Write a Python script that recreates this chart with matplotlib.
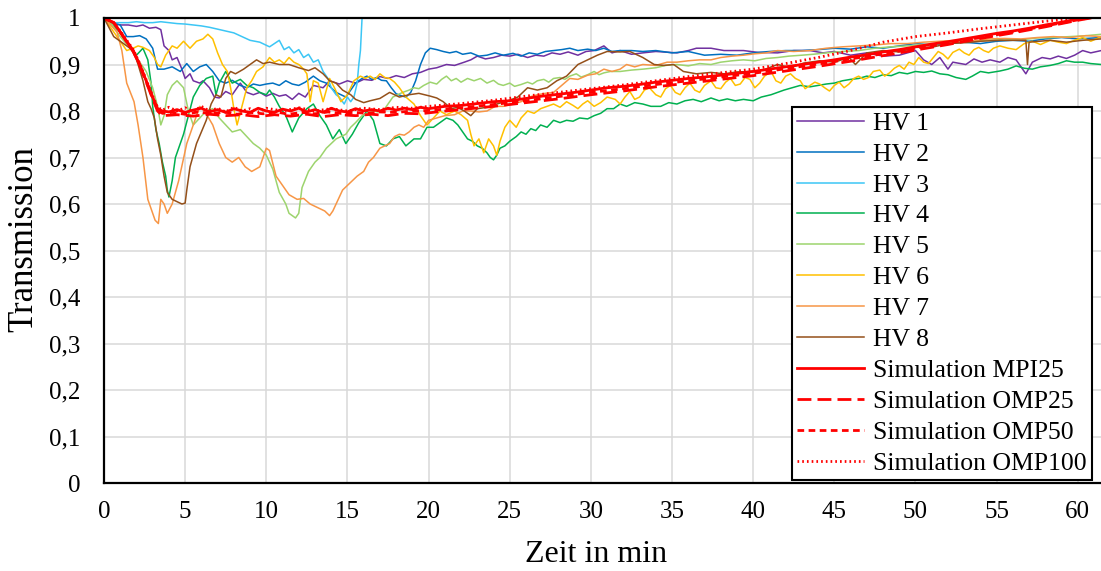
import matplotlib
matplotlib.use("Agg")
import matplotlib.pyplot as plt
from matplotlib.ticker import FuncFormatter

# =============================================================================
# data: (time in min, transmission)
# =============================================================================

hv1 = [(0, 1.0), (0.5, 0.99), (1.0, 0.985), (1.5, 0.985), (2.0, 0.982), (2.4, 0.985), (2.8, 0.978),
       (3.2, 0.98), (3.5, 0.975), (3.7, 0.94), (4.0, 0.93), (4.2, 0.91), (4.5, 0.915), (4.8, 0.89),
       (5.0, 0.87), (5.3, 0.88), (5.5, 0.865), (5.9, 0.86), (6.1, 0.865), (6.5, 0.85), (6.8, 0.83),
       (7.1, 0.828), (7.5, 0.842), (7.9, 0.835), (8.4, 0.86), (8.8, 0.84), (9.2, 0.835), (9.6, 0.84),
       (10.0, 0.832), (10.4, 0.838), (10.8, 0.832), (11.2, 0.835), (11.6, 0.825), (12.0, 0.838),
       (12.4, 0.83), (12.9, 0.855), (13.5, 0.85), (13.9, 0.865), (14.5, 0.858), (15.0, 0.865),
       (15.5, 0.86), (16.0, 0.868), (16.5, 0.866), (17.0, 0.874), (17.5, 0.87), (18.0, 0.876),
       (18.5, 0.872), (19.0, 0.88), (19.5, 0.883), (20.0, 0.89), (20.5, 0.893), (21.1, 0.9),
       (21.6, 0.898), (22.2, 0.905), (22.6, 0.91), (23.0, 0.918), (23.5, 0.912), (24.0, 0.915),
       (24.5, 0.92), (25.0, 0.918), (25.5, 0.922), (26.1, 0.915), (26.6, 0.92), (27.1, 0.918),
       (27.6, 0.925), (28.1, 0.922), (28.6, 0.927), (29.2, 0.92), (29.7, 0.928), (30.2, 0.93),
       (30.8, 0.94), (31.3, 0.925), (31.8, 0.93), (32.5, 0.922), (33.2, 0.925), (34.0, 0.928),
       (35.3, 0.925), (36.0, 0.93), (36.5, 0.935), (37.4, 0.935), (38.2, 0.93), (39.4, 0.93),
       (40.3, 0.926), (41.5, 0.925), (42.5, 0.93), (43.5, 0.93), (44.3, 0.925), (45.0, 0.928),
       (46.0, 0.92), (47.0, 0.925), (48.0, 0.918), (49.0, 0.92), (50.0, 0.93), (50.5, 0.91),
       (51.0, 0.9), (51.5, 0.915), (52.0, 0.89), (52.3, 0.905), (53.1, 0.9), (53.6, 0.912),
       (54.1, 0.905), (54.6, 0.91), (55.2, 0.905), (55.7, 0.915), (56.2, 0.91), (56.8, 0.88),
       (57.2, 0.905), (57.8, 0.915), (58.3, 0.912), (58.8, 0.918), (59.3, 0.913), (59.8, 0.92),
       (60.3, 0.93), (60.8, 0.925), (61.45, 0.93)]

hv2 = [(0, 1.0), (0.5, 0.99), (1.0, 0.985), (1.4, 0.96), (1.8, 0.96), (2.2, 0.962), (2.6, 0.955),
       (3.0, 0.935), (3.3, 0.89), (3.7, 0.89), (4.2, 0.895), (4.7, 0.885), (5.1, 0.902), (5.5, 0.885),
       (5.9, 0.895), (6.3, 0.9), (6.7, 0.885), (7.1, 0.865), (7.5, 0.86), (7.9, 0.866), (8.4, 0.855),
       (8.8, 0.85), (9.2, 0.858), (9.6, 0.855), (10.0, 0.858), (10.4, 0.86), (10.8, 0.855),
       (11.2, 0.865), (11.6, 0.858), (12.0, 0.855), (12.4, 0.862), (12.9, 0.875), (13.3, 0.865),
       (13.7, 0.86), (14.0, 0.85), (14.3, 0.84), (14.6, 0.835), (14.9, 0.83), (15.2, 0.845),
       (15.5, 0.86), (15.9, 0.87), (16.2, 0.875), (16.5, 0.868), (16.8, 0.872), (17.1, 0.866),
       (17.4, 0.865), (17.7, 0.85), (18.0, 0.837), (18.3, 0.833), (18.6, 0.83), (18.9, 0.84),
       (19.2, 0.865), (19.5, 0.9), (19.8, 0.925), (20.1, 0.935), (20.5, 0.932), (20.9, 0.928),
       (21.3, 0.925), (21.7, 0.928), (22.1, 0.922), (22.6, 0.925), (23.1, 0.918), (23.6, 0.92),
       (24.1, 0.925), (24.6, 0.92), (25.2, 0.924), (25.7, 0.918), (26.2, 0.925), (26.7, 0.922),
       (27.2, 0.928), (27.7, 0.93), (28.2, 0.932), (28.7, 0.935), (29.2, 0.93), (29.8, 0.933),
       (30.3, 0.93), (30.8, 0.935), (31.3, 0.928), (31.8, 0.93), (32.5, 0.93), (33.2, 0.928),
       (34.0, 0.93), (35.0, 0.925), (36.0, 0.928), (37.0, 0.92), (38.0, 0.922), (39.0, 0.92),
       (40.0, 0.925), (41.0, 0.928), (42.0, 0.93), (43.0, 0.93), (44.0, 0.932), (45.0, 0.935),
       (46.0, 0.933), (47.0, 0.938), (48.0, 0.935), (49.0, 0.94), (50.0, 0.945), (51.0, 0.942),
       (52.0, 0.945), (53.0, 0.948), (54.0, 0.945), (55.0, 0.95), (56.0, 0.952), (57.0, 0.95),
       (58.0, 0.955), (59.0, 0.958), (60.0, 0.955), (61.45, 0.958)]

hv3 = [(0, 0.995), (0.5, 0.99), (1.0, 0.99), (1.5, 0.99), (2.0, 0.992), (2.5, 0.99), (3.0, 0.99),
       (3.5, 0.992), (4.0, 0.99), (4.5, 0.988), (5.0, 0.987), (5.5, 0.985), (6.0, 0.983), (6.5, 0.98),
       (7.0, 0.976), (7.5, 0.972), (8.0, 0.968), (8.5, 0.96), (9.0, 0.952), (9.6, 0.948),
       (10.2, 0.938), (10.5, 0.945), (10.8, 0.952), (11.1, 0.932), (11.4, 0.938), (11.7, 0.925),
       (12.0, 0.932), (12.3, 0.915), (12.6, 0.922), (12.9, 0.905), (13.2, 0.91), (13.5, 0.885),
       (13.8, 0.87), (14.0, 0.85), (14.3, 0.835), (14.5, 0.83), (14.8, 0.815), (15.0, 0.83),
       (15.2, 0.82), (15.4, 0.83), (15.6, 0.86), (15.7, 0.9), (15.8, 0.93), (15.9, 1.0), (16.0, 1.05)]

hv4 = [(0, 1.0), (0.5, 0.985), (1.0, 0.97), (1.3, 0.955), (1.6, 0.94), (2.0, 0.92), (2.4, 0.935),
       (2.7, 0.91), (2.9, 0.86), (3.0, 0.81), (3.2, 0.76), (3.4, 0.73), (3.6, 0.69), (3.8, 0.66),
       (3.9, 0.63), (4.0, 0.615), (4.2, 0.65), (4.4, 0.70), (4.6, 0.72), (4.9, 0.75), (5.2, 0.79),
       (5.5, 0.83), (5.9, 0.855), (6.3, 0.87), (6.7, 0.875), (6.9, 0.835), (7.1, 0.86), (7.5, 0.885),
       (7.9, 0.86), (8.4, 0.868), (8.8, 0.855), (9.2, 0.85), (9.6, 0.84), (10.0, 0.835),
       (10.2, 0.845), (10.5, 0.83), (10.8, 0.81), (11.2, 0.79), (11.6, 0.755), (12.0, 0.785),
       (12.5, 0.805), (12.9, 0.815), (13.3, 0.79), (13.7, 0.77), (14.1, 0.74), (14.5, 0.76),
       (14.9, 0.73), (15.3, 0.75), (15.7, 0.775), (16.2, 0.80), (16.6, 0.78), (17.0, 0.73),
       (17.4, 0.725), (17.8, 0.74), (18.2, 0.745), (18.6, 0.725), (19.1, 0.74), (19.5, 0.74),
       (19.9, 0.765), (20.3, 0.765), (20.7, 0.775), (21.1, 0.785), (21.5, 0.78), (21.8, 0.77),
       (22.1, 0.755), (22.4, 0.74), (22.7, 0.735), (23.0, 0.725), (23.3, 0.72), (23.6, 0.71),
       (23.8, 0.70), (24.0, 0.695), (24.2, 0.705), (24.4, 0.72), (24.7, 0.725), (25.0, 0.735),
       (25.4, 0.745), (25.7, 0.755), (26.0, 0.75), (26.3, 0.762), (26.6, 0.758), (26.9, 0.77),
       (27.3, 0.765), (27.7, 0.78), (28.1, 0.775), (28.5, 0.78), (28.9, 0.778), (29.3, 0.785),
       (29.8, 0.783), (30.2, 0.79), (30.6, 0.795), (31.0, 0.805), (31.4, 0.805), (31.8, 0.815),
       (32.2, 0.81), (32.7, 0.818), (33.2, 0.815), (33.7, 0.81), (34.3, 0.81), (34.8, 0.818),
       (35.3, 0.815), (35.8, 0.822), (36.3, 0.825), (36.8, 0.82), (37.4, 0.828), (37.9, 0.822),
       (38.4, 0.826), (38.9, 0.822), (39.4, 0.825), (40.0, 0.822), (40.5, 0.83), (41.1, 0.835),
       (41.5, 0.84), (41.9, 0.845), (42.4, 0.85), (42.9, 0.855), (43.5, 0.852), (44.0, 0.855),
       (44.5, 0.858), (45.0, 0.86), (45.5, 0.865), (46.0, 0.868), (46.5, 0.87), (47.0, 0.875),
       (47.5, 0.872), (48.0, 0.878), (48.5, 0.876), (49.0, 0.883), (49.5, 0.88), (50.0, 0.885),
       (50.5, 0.883), (51.0, 0.886), (51.5, 0.88), (52.0, 0.878), (52.5, 0.872), (53.1, 0.868),
       (53.5, 0.875), (54.0, 0.885), (54.5, 0.882), (55.2, 0.886), (55.7, 0.89), (56.2, 0.897),
       (56.7, 0.892), (57.2, 0.89), (57.7, 0.895), (58.3, 0.898), (58.8, 0.902), (59.3, 0.908),
       (59.8, 0.905), (60.3, 0.905), (60.8, 0.902), (61.45, 0.90)]

hv5 = [(0, 1.0), (0.5, 0.985), (1.0, 0.96), (1.6, 0.935), (2.2, 0.905), (2.6, 0.885), (3.0, 0.85),
       (3.3, 0.81), (3.5, 0.77), (3.7, 0.79), (3.9, 0.835), (4.2, 0.855), (4.5, 0.865), (4.9, 0.85),
       (5.2, 0.80), (5.5, 0.77), (5.9, 0.785), (6.3, 0.80), (6.7, 0.805), (7.1, 0.785), (7.5, 0.77),
       (7.9, 0.755), (8.4, 0.76), (8.8, 0.745), (9.2, 0.73), (9.6, 0.72), (10.0, 0.705),
       (10.4, 0.675), (10.8, 0.625), (11.2, 0.60), (11.4, 0.58), (11.6, 0.575), (11.8, 0.57),
       (12.0, 0.58), (12.2, 0.635), (12.6, 0.67), (13.0, 0.69), (13.3, 0.70), (13.7, 0.72),
       (14.0, 0.73), (14.3, 0.74), (14.6, 0.745), (14.9, 0.75), (15.2, 0.765), (15.5, 0.775),
       (15.9, 0.79), (16.2, 0.795), (16.6, 0.80), (16.9, 0.798), (17.2, 0.80), (17.5, 0.815),
       (17.8, 0.83), (18.1, 0.835), (18.4, 0.84), (18.8, 0.845), (19.1, 0.85), (19.4, 0.848),
       (19.7, 0.855), (20.1, 0.862), (20.5, 0.858), (20.8, 0.868), (21.1, 0.875), (21.4, 0.865),
       (21.7, 0.87), (22.0, 0.862), (22.4, 0.87), (22.8, 0.865), (23.2, 0.87), (23.6, 0.86),
       (24.0, 0.866), (24.3, 0.858), (24.6, 0.855), (25.0, 0.86), (25.3, 0.853), (25.7, 0.857),
       (26.1, 0.862), (26.4, 0.858), (26.7, 0.865), (27.1, 0.868), (27.4, 0.862), (27.7, 0.87),
       (28.1, 0.872), (28.4, 0.868), (28.7, 0.875), (29.1, 0.88), (29.4, 0.873), (29.8, 0.878),
       (30.2, 0.885), (30.5, 0.878), (30.8, 0.882), (31.2, 0.885), (31.8, 0.885), (32.5, 0.888),
       (33.2, 0.89), (34.0, 0.893), (34.6, 0.898), (35.3, 0.9), (36.0, 0.897), (36.7, 0.902),
       (37.4, 0.9), (38.0, 0.905), (38.7, 0.908), (39.4, 0.91), (40.1, 0.908), (40.8, 0.913),
       (41.5, 0.915), (42.2, 0.918), (43.0, 0.92), (43.7, 0.922), (44.5, 0.925), (45.5, 0.928),
       (46.5, 0.93), (47.5, 0.935), (48.5, 0.938), (49.5, 0.94), (50.5, 0.943), (51.5, 0.945),
       (52.5, 0.948), (53.5, 0.95), (54.5, 0.952), (55.5, 0.955), (56.5, 0.953), (57.5, 0.957),
       (58.5, 0.958), (59.5, 0.96), (60.5, 0.962), (61.45, 0.965)]

hv6 = [(0, 1.0), (0.5, 0.975), (1.0, 0.95), (1.4, 0.93), (1.8, 0.935), (2.1, 0.94), (2.4, 0.937),
       (2.8, 0.93), (3.1, 0.915), (3.3, 0.9), (3.5, 0.895), (3.8, 0.92), (4.2, 0.94), (4.5, 0.935),
       (4.9, 0.95), (5.3, 0.935), (5.7, 0.95), (6.1, 0.955), (6.4, 0.965), (6.7, 0.955),
       (7.0, 0.925), (7.3, 0.9), (7.6, 0.885), (7.8, 0.85), (8.0, 0.805), (8.2, 0.77), (8.5, 0.81),
       (8.8, 0.85), (9.1, 0.865), (9.4, 0.885), (9.8, 0.895), (10.2, 0.915), (10.5, 0.905),
       (10.8, 0.91), (11.1, 0.902), (11.4, 0.915), (11.7, 0.905), (12.0, 0.9), (12.3, 0.89),
       (12.5, 0.88), (12.7, 0.82), (12.9, 0.865), (13.2, 0.86), (13.5, 0.82), (13.9, 0.87),
       (14.2, 0.85), (14.6, 0.82), (15.0, 0.835), (15.4, 0.865), (15.8, 0.875), (16.1, 0.87),
       (16.4, 0.875), (16.7, 0.868), (17.0, 0.88), (17.3, 0.872), (17.6, 0.87), (17.9, 0.862),
       (18.2, 0.85), (18.6, 0.83), (19.1, 0.815), (19.5, 0.79), (19.9, 0.77), (20.3, 0.785),
       (20.7, 0.80), (21.1, 0.792), (21.6, 0.8), (22.0, 0.792), (22.4, 0.78), (22.6, 0.75),
       (22.8, 0.725), (23.1, 0.74), (23.4, 0.71), (23.7, 0.74), (24.0, 0.725), (24.2, 0.705),
       (24.4, 0.735), (24.7, 0.765), (25.0, 0.78), (25.4, 0.765), (25.7, 0.785), (26.1, 0.80),
       (26.5, 0.795), (26.9, 0.805), (27.3, 0.81), (27.7, 0.815), (28.1, 0.808), (28.5, 0.82),
       (28.9, 0.812), (29.2, 0.805), (29.5, 0.815), (29.8, 0.822), (30.2, 0.81), (30.6, 0.818),
       (31.0, 0.83), (31.5, 0.825), (31.8, 0.815), (32.1, 0.83), (32.4, 0.842), (32.7, 0.825),
       (33.0, 0.83), (33.3, 0.845), (33.6, 0.85), (34.0, 0.835), (34.3, 0.83), (34.6, 0.848),
       (34.9, 0.855), (35.2, 0.84), (35.5, 0.835), (35.8, 0.85), (36.1, 0.86), (36.4, 0.845),
       (36.7, 0.84), (37.0, 0.855), (37.4, 0.865), (37.7, 0.85), (38.0, 0.848), (38.3, 0.862),
       (38.6, 0.87), (38.9, 0.855), (39.2, 0.858), (39.5, 0.872), (39.8, 0.868), (40.1, 0.85),
       (40.4, 0.86), (40.7, 0.875), (41.1, 0.885), (41.4, 0.865), (41.7, 0.86), (42.0, 0.875),
       (42.3, 0.88), (42.6, 0.87), (42.9, 0.865), (43.2, 0.848), (43.5, 0.855), (43.8, 0.862),
       (44.1, 0.858), (44.4, 0.85), (44.7, 0.843), (45.0, 0.855), (45.3, 0.862), (45.6, 0.85),
       (45.9, 0.858), (46.2, 0.87), (46.5, 0.875), (46.8, 0.868), (47.1, 0.872), (47.4, 0.885),
       (47.8, 0.888), (48.1, 0.875), (48.4, 0.882), (48.7, 0.892), (49.0, 0.898), (49.3, 0.89),
       (49.6, 0.905), (49.9, 0.9), (50.2, 0.915), (50.5, 0.905), (50.8, 0.902), (51.1, 0.915),
       (51.4, 0.928), (51.7, 0.922), (52.0, 0.912), (52.3, 0.926), (52.7, 0.933), (53.0, 0.925),
       (53.3, 0.92), (53.6, 0.932), (53.9, 0.937), (54.2, 0.93), (54.5, 0.926), (54.8, 0.935),
       (55.2, 0.94), (55.7, 0.935), (56.2, 0.932), (56.7, 0.945), (57.2, 0.95), (57.7, 0.943),
       (58.3, 0.952), (58.8, 0.948), (59.3, 0.945), (59.8, 0.952), (60.3, 0.958), (60.8, 0.95),
       (61.45, 0.96)]

hv7 = [(0, 1.0), (0.4, 0.985), (0.8, 0.97), (1.1, 0.93), (1.4, 0.86), (1.85, 0.82), (2.1, 0.77),
       (2.4, 0.70), (2.7, 0.61), (2.9, 0.59), (3.15, 0.565), (3.35, 0.558), (3.5, 0.61), (3.7, 0.6),
       (3.9, 0.58), (4.2, 0.60), (4.6, 0.65), (5.1, 0.73), (5.5, 0.77), (5.9, 0.81), (6.2, 0.80),
       (6.7, 0.77), (7.1, 0.73), (7.5, 0.70), (7.9, 0.69), (8.3, 0.70), (8.7, 0.68), (9.1, 0.67),
       (9.6, 0.68), (10.0, 0.72), (10.2, 0.715), (10.6, 0.66), (11.0, 0.64), (11.4, 0.62),
       (11.9, 0.61), (12.3, 0.612), (12.7, 0.60), (13.0, 0.595), (13.3, 0.59), (13.6, 0.585),
       (13.9, 0.575), (14.1, 0.585), (14.3, 0.60), (14.7, 0.63), (15.0, 0.64), (15.3, 0.65),
       (15.6, 0.66), (16.0, 0.67), (16.3, 0.69), (16.6, 0.70), (17.0, 0.72), (17.3, 0.725),
       (17.6, 0.73), (17.9, 0.745), (18.2, 0.75), (18.5, 0.748), (18.8, 0.755), (19.1, 0.765),
       (19.4, 0.77), (19.7, 0.765), (20.0, 0.78), (20.5, 0.785), (21.0, 0.79), (21.6, 0.792),
       (22.1, 0.8), (22.6, 0.80), (23.1, 0.798), (23.6, 0.80), (24.1, 0.81), (24.6, 0.81),
       (25.2, 0.815), (25.7, 0.82), (26.2, 0.83), (26.7, 0.835), (27.2, 0.838), (27.7, 0.84),
       (28.2, 0.855), (28.7, 0.87), (29.2, 0.868), (29.8, 0.877), (30.3, 0.88), (30.8, 0.89),
       (31.3, 0.885), (31.8, 0.89), (32.2, 0.9), (32.7, 0.895), (33.2, 0.9), (34.0, 0.898),
       (34.7, 0.905), (35.3, 0.905), (36.0, 0.908), (36.7, 0.91), (37.4, 0.91), (38.0, 0.915),
       (38.7, 0.918), (39.4, 0.92), (40.1, 0.923), (40.8, 0.925), (41.5, 0.93), (42.5, 0.928),
       (43.5, 0.93), (44.5, 0.935), (45.5, 0.938), (46.5, 0.94), (47.5, 0.942), (48.5, 0.945),
       (49.5, 0.945), (50.5, 0.948), (51.5, 0.95), (52.5, 0.952), (53.5, 0.95), (54.5, 0.955),
       (55.5, 0.956), (56.5, 0.955), (57.5, 0.958), (58.5, 0.96), (59.5, 0.958), (60.5, 0.962),
       (61.45, 0.96)]

hv8 = [(0, 1.0), (0.3, 0.98), (0.6, 0.96), (1.0, 0.95), (1.4, 0.94), (1.8, 0.93), (2.1, 0.9),
       (2.4, 0.865), (2.7, 0.82), (2.9, 0.805), (3.1, 0.785), (3.3, 0.74), (3.5, 0.705),
       (3.7, 0.66), (3.9, 0.625), (4.2, 0.61), (4.5, 0.605), (4.8, 0.60), (5.0, 0.602),
       (5.1, 0.63), (5.3, 0.68), (5.5, 0.705), (5.7, 0.73), (6.0, 0.755), (6.3, 0.78),
       (6.6, 0.815), (6.9, 0.835), (7.2, 0.83), (7.5, 0.87), (7.8, 0.885), (8.1, 0.88),
       (8.6, 0.89), (9.0, 0.9), (9.4, 0.91), (9.8, 0.902), (10.2, 0.905), (10.8, 0.9),
       (11.4, 0.9), (12.0, 0.893), (12.6, 0.887), (13.0, 0.893), (13.5, 0.88), (13.9, 0.865),
       (14.3, 0.86), (14.7, 0.845), (15.2, 0.835), (15.5, 0.825), (16.0, 0.818), (16.4, 0.822),
       (17.0, 0.827), (17.6, 0.84), (18.2, 0.83), (18.8, 0.835), (19.4, 0.838), (20.1, 0.832),
       (20.5, 0.828), (20.9, 0.82), (21.4, 0.805), (21.8, 0.808), (22.2, 0.80), (22.6, 0.79),
       (23.0, 0.805), (23.6, 0.808), (24.2, 0.815), (24.9, 0.822), (25.5, 0.83), (26.1, 0.85),
       (26.7, 0.845), (27.3, 0.85), (27.9, 0.865), (28.5, 0.875), (29.2, 0.9), (29.8, 0.91),
       (30.4, 0.92), (31.0, 0.928), (31.8, 0.927), (32.4, 0.928), (33.2, 0.915), (33.9, 0.9),
       (34.5, 0.898), (35.1, 0.9), (35.7, 0.885), (36.5, 0.88), (37.4, 0.883), (38.2, 0.88),
       (39.0, 0.884), (39.8, 0.885), (40.6, 0.888), (41.5, 0.9), (42.3, 0.893), (43.1, 0.903),
       (43.5, 0.905), (44.1, 0.908), (45.0, 0.905), (45.9, 0.915), (46.3, 0.9), (47.0, 0.925),
       (48.0, 0.93), (49.0, 0.927), (50.0, 0.937), (51.0, 0.937), (52.0, 0.945), (53.1, 0.947),
       (54.0, 0.95), (55.2, 0.952), (56.2, 0.952), (56.8, 0.952), (56.9, 0.9), (57.0, 0.948),
       (58.3, 0.952), (59.3, 0.948), (60.3, 0.952), (61.45, 0.955)]

sim_mpi25 = [(0, 1.0), (0.6, 0.99), (1.0, 0.97), (1.4, 0.95), (1.8, 0.93), (2.2, 0.90), (2.6, 0.865),
             (3.0, 0.83), (3.3, 0.805), (3.6, 0.80), (4.0, 0.798), (4.5, 0.803), (5.0, 0.797),
             (5.5, 0.802), (6.0, 0.806), (6.5, 0.798), (7.0, 0.803), (7.5, 0.797), (8.0, 0.805),
             (8.5, 0.8), (9.0, 0.797), (9.5, 0.806), (10.0, 0.8), (10.5, 0.797), (11.0, 0.804),
             (11.5, 0.8), (12.0, 0.806), (12.5, 0.798), (13.0, 0.803), (13.5, 0.797), (14.0, 0.806),
             (14.5, 0.8), (15.0, 0.798), (15.5, 0.805), (16.0, 0.8), (16.5, 0.803), (17.0, 0.8),
             (17.5, 0.806), (18.0, 0.802), (18.5, 0.806), (19.0, 0.803), (19.5, 0.808), (20.0, 0.805),
             (21.0, 0.81), (22.0, 0.812), (23.0, 0.816), (24.0, 0.82), (25.0, 0.822), (26.0, 0.827),
             (27.0, 0.832), (28.0, 0.836), (29.0, 0.84), (30.0, 0.845), (31.0, 0.85), (32.0, 0.853),
             (33.0, 0.857), (34.0, 0.862), (35.0, 0.866), (36.0, 0.87), (37.0, 0.873), (38.0, 0.877),
             (39.0, 0.881), (40.0, 0.885), (41.0, 0.89), (42.0, 0.895), (43.0, 0.9), (44.0, 0.905),
             (45.0, 0.91), (46.0, 0.916), (47.0, 0.921), (48.0, 0.927), (49.0, 0.932), (50.0, 0.938),
             (51.0, 0.944), (52.0, 0.949), (53.0, 0.955), (54.0, 0.961), (55.0, 0.967), (56.0, 0.972),
             (57.0, 0.978), (58.0, 0.985), (59.0, 0.991), (60.0, 0.998), (61.45, 1.007)]

sim_omp25 = [(0, 1.0), (0.6, 0.99), (1.0, 0.97), (1.4, 0.948), (1.8, 0.928), (2.2, 0.898), (2.6, 0.862),
             (3.0, 0.826), (3.3, 0.8), (3.6, 0.79), (4.5, 0.792), (5.5, 0.789), (6.5, 0.793),
             (7.5, 0.79), (8.5, 0.792), (9.5, 0.788), (10.5, 0.792), (11.5, 0.789), (12.5, 0.793),
             (13.5, 0.788), (14.5, 0.792), (15.5, 0.79), (16.5, 0.793), (17.5, 0.79), (18.5, 0.795),
             (19.5, 0.794), (20.5, 0.798), (22.0, 0.803), (24.0, 0.81), (26.0, 0.818), (28.0, 0.826),
             (30.0, 0.835), (32.0, 0.843), (34.0, 0.852), (36.0, 0.86), (38.0, 0.868), (40.0, 0.876),
             (42.0, 0.886), (44.0, 0.896), (46.0, 0.907), (48.0, 0.919), (50.0, 0.931), (52.0, 0.943),
             (54.0, 0.956), (56.0, 0.968), (58.0, 0.981), (60.0, 0.995), (61.45, 1.004)]

sim_omp50 = [(0, 1.0), (0.6, 0.99), (1.0, 0.97), (1.4, 0.949), (1.8, 0.929), (2.2, 0.899), (2.6, 0.864),
             (3.0, 0.828), (3.3, 0.803), (3.6, 0.795), (4.2, 0.797), (5.0, 0.793), (5.8, 0.798),
             (6.6, 0.794), (7.4, 0.798), (8.2, 0.793), (9.0, 0.797), (9.8, 0.794), (10.6, 0.798),
             (11.4, 0.793), (12.2, 0.797), (13.0, 0.794), (13.8, 0.798), (14.6, 0.795), (15.4, 0.797),
             (16.2, 0.795), (17.0, 0.798), (18.0, 0.797), (19.0, 0.8), (20.0, 0.801), (22.0, 0.807),
             (24.0, 0.814), (26.0, 0.822), (28.0, 0.831), (30.0, 0.84), (32.0, 0.848), (34.0, 0.857),
             (36.0, 0.865), (38.0, 0.873), (40.0, 0.881), (42.0, 0.891), (44.0, 0.901), (46.0, 0.912),
             (48.0, 0.923), (50.0, 0.935), (52.0, 0.946), (54.0, 0.958), (56.0, 0.97), (58.0, 0.983),
             (60.0, 0.996), (61.45, 1.005)]

sim_omp100 = [(0, 1.0), (0.6, 0.99), (1.0, 0.972), (1.4, 0.952), (1.8, 0.932), (2.2, 0.902),
              (2.6, 0.867), (3.0, 0.832), (3.3, 0.808), (3.6, 0.802), (4.0, 0.808), (4.5, 0.8),
              (5.0, 0.807), (5.5, 0.799), (6.0, 0.81), (6.5, 0.8), (7.0, 0.806), (7.5, 0.798),
              (8.0, 0.808), (8.5, 0.8), (9.0, 0.805), (9.5, 0.798), (10.0, 0.806), (11.0, 0.8),
              (12.0, 0.807), (13.0, 0.8), (14.0, 0.805), (15.0, 0.8), (16.0, 0.806), (17.0, 0.803),
              (18.0, 0.808), (19.0, 0.806), (20.0, 0.81), (22.0, 0.816), (24.0, 0.823), (26.0, 0.832),
              (28.0, 0.84), (30.0, 0.848), (32.0, 0.856), (34.0, 0.865), (36.0, 0.874), (38.0, 0.882),
              (40.0, 0.89), (42.0, 0.902), (44.0, 0.915), (46.0, 0.93), (48.0, 0.948), (50.0, 0.96),
              (52.0, 0.968), (54.0, 0.977), (56.0, 0.985), (58.0, 0.993), (60.0, 1.0), (61.45, 1.008)]

labels = ["HV 1", "HV 2", "HV 3", "HV 4", "HV 5", "HV 6", "HV 7", "HV 8",
          "Simulation MPI25", "Simulation OMP25", "Simulation OMP50", "Simulation OMP100"]
x_ticks = list(range(0, 61, 5))
y_ticks = [0, 0.1, 0.2, 0.3, 0.4, 0.5, 0.6, 0.7, 0.8, 0.9, 1.0]

# =============================================================================
# plot
# =============================================================================

plt.rcParams["font.family"] = ["Liberation Serif", "DejaVu Serif"]

measured = [hv1, hv2, hv3, hv4, hv5, hv6, hv7, hv8]
colors = ["#7030A0", "#0070C0", "#3CC6F5", "#00B050", "#9DD46E", "#FFC000", "#F79646", "#94501A"]
simulated = [sim_mpi25, sim_omp25, sim_omp50, sim_omp100]
dash_styles = [None, (5, 2.2), (2.4, 1.6), (0.6, 1.1)]

fig = plt.figure(figsize=(11.01, 5.71), dpi=100)
ax = fig.add_axes([104 / 1101, 88 / 571, 997 / 1101, 465 / 571])

for series, col, lab in zip(measured, colors, labels[:8]):
    t = [p[0] for p in series]
    v = [p[1] for p in series]
    ax.plot(t, v, color=col, lw=1.1, label=lab)

for series, dash, lab in zip(simulated, dash_styles, labels[8:]):
    t = [p[0] for p in series]
    v = [p[1] for p in series]
    line, = ax.plot(t, v, color="#FF0000", lw=2.0, label=lab)
    if dash is not None:
        line.set_dashes(dash)

ax.set_xlim(0, 61.43)
ax.set_ylim(0, 1)
ax.set_xticks(x_ticks)
ax.set_yticks(y_ticks)
ax.yaxis.set_major_formatter(FuncFormatter(lambda v, p: f"{round(v, 1):g}".replace(".", ",")))
ax.tick_params(axis="both", length=0, labelsize=18, colors="black")
ax.tick_params(axis="x", pad=13)
ax.tick_params(axis="y", pad=17)

ax.grid(True, color="#D9D9D9", lw=1.1)
ax.set_axisbelow(True)
for side in ["left", "bottom", "top"]:
    ax.spines[side].set_linewidth(1.6)
    ax.spines[side].set_color("black")
ax.spines["right"].set_visible(False)

ax.set_xlabel("Zeit in min", fontsize=23)
ax.set_ylabel("Transmission", fontsize=25)
ax.xaxis.set_label_coords(0.494, -0.122)
ax.yaxis.set_label_coords(-0.064, 0.525)

leg = fig.legend(loc="upper left", bbox_to_anchor=(792 / 1101, 1 - 106.5 / 571),
                 fontsize=18.5, frameon=True, fancybox=False, framealpha=1,
                 edgecolor="black", borderaxespad=0, borderpad=0.2,
                 labelspacing=0.31, handlelength=2.6, handletextpad=0.35)
leg.get_frame().set_linewidth(1.5)

fig.savefig("out.png", dpi=100)
